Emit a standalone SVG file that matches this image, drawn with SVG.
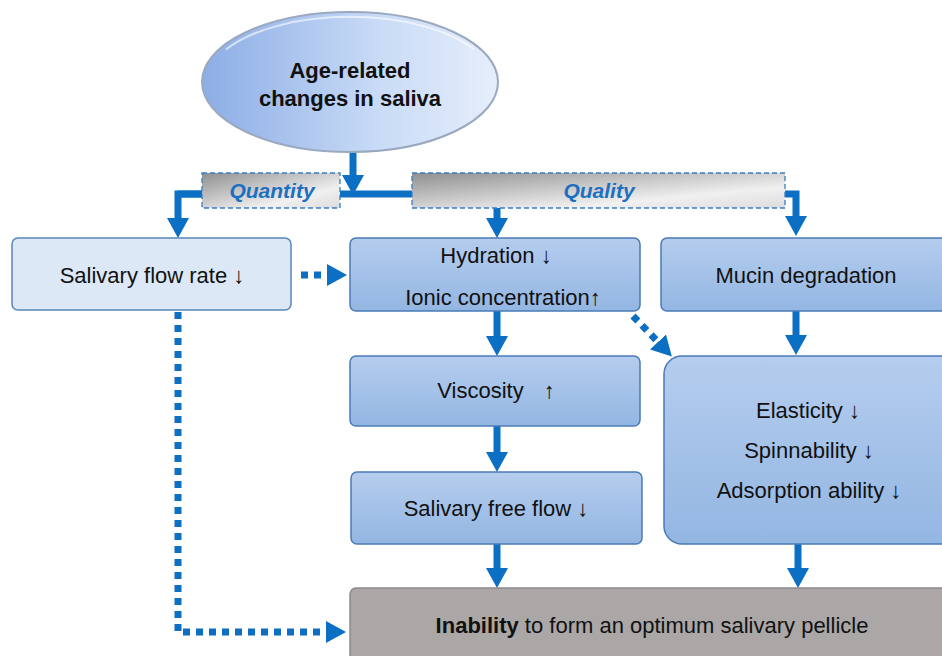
<svg xmlns="http://www.w3.org/2000/svg" width="942" height="656" viewBox="0 0 942 656">
<defs>
<linearGradient id="gEll" x1="0" y1="0" x2="1" y2="0">
<stop offset="0" stop-color="#8cade6"/>
<stop offset="0.6" stop-color="#c9dbf6"/>
<stop offset="1" stop-color="#e6eefb"/>
</linearGradient>
<linearGradient id="gTag" x1="0" y1="0" x2="1" y2="1">
<stop offset="0" stop-color="#8f8f8f"/>
<stop offset="0.7" stop-color="#f0f0f0"/>
<stop offset="1" stop-color="#dcdcdc"/>
</linearGradient>
<linearGradient id="gBox" x1="0" y1="0" x2="0" y2="1">
<stop offset="0" stop-color="#b5cdee"/>
<stop offset="1" stop-color="#93b6e2"/>
</linearGradient>
<marker id="ah" viewBox="0 0 20 22" refX="0" refY="11" markerWidth="20" markerHeight="22" markerUnits="userSpaceOnUse" orient="auto">
<path d="M0,0 L20,11 L0,22 Z" fill="#0b6fc3"/>
</marker>
</defs>
<style>
.t{font-family:"Liberation Sans",Arial,sans-serif;font-size:22px;fill:#111;text-anchor:middle}
.b{font-weight:bold}
.tag{font-family:"Liberation Sans",Arial,sans-serif;font-size:21px;font-weight:bold;font-style:italic;fill:#1d6fc0;text-anchor:middle}
.box{fill:url(#gBox);stroke:#4a7bb7;stroke-width:1.5}
.solid{fill:none;stroke:#0b6fc3;stroke-width:7}
.dot{fill:none;stroke:#0b6fc3;stroke-width:7;stroke-dasharray:7 6}
.tagbox{fill:url(#gTag);stroke:#3b7cc0;stroke-width:1.3;stroke-dasharray:5 3}
</style>

<g id="connectors">
<path class="solid" d="M204,194 L178,194 L178,218" marker-end="url(#ah)"/>
<path class="solid" d="M178,194 L796,194 L796,216" marker-end="url(#ah)"/>
<path class="solid" d="M353,152 L353,175" marker-end="url(#ah)"/>
<path class="solid" d="M497,206 L497,218" marker-end="url(#ah)"/>
<path class="solid" d="M497,311 L497,336" marker-end="url(#ah)"/>
<path class="solid" d="M497,426 L497,452" marker-end="url(#ah)"/>
<path class="solid" d="M497,544 L497,568" marker-end="url(#ah)"/>
<path class="solid" d="M796,311 L796,335" marker-end="url(#ah)"/>
<path class="solid" d="M798,544 L798,568" marker-end="url(#ah)"/>
<path class="dot" d="M301,275 L327,275" marker-end="url(#ah)"/>
<path class="dot" d="M633,316 L658,342" marker-end="url(#ah)"/>
<path class="dot" d="M178,312 L178,632 L326,632" marker-end="url(#ah)"/>
</g>

<g id="age">
<ellipse cx="350" cy="82" rx="148" ry="70" fill="url(#gEll)" stroke="#9aa9c0" stroke-width="2"/>
<path d="M226,49.5 A143 65 0 0 1 474,49.5" fill="none" stroke="#ffffff" stroke-opacity="0.6" stroke-width="2"/>
<text class="t b" x="350" y="78">Age-related</text>
<text class="t b" x="350" y="106">changes in saliva</text>
</g>

<g id="quantity">
<rect class="tagbox" x="202" y="173" width="138" height="35"/>
<text class="tag" x="272" y="198">Quantity</text>
</g>

<g id="quality">
<rect class="tagbox" x="412" y="173" width="373" height="35"/>
<text class="tag" x="599" y="198">Quality</text>
</g>

<g id="flowrate">
<rect x="12" y="238" width="279" height="72" rx="6" fill="#dce8f6" stroke="#5a85b6" stroke-width="1.5"/>
<text class="t" x="152" y="283">Salivary flow rate ↓</text>
</g>

<g id="hydration">
<rect class="box" x="350" y="238" width="290" height="73" rx="6"/>
<text class="t" x="496" y="263">Hydration ↓</text>
<text class="t" x="503" y="305">Ionic concentration↑</text>
</g>

<g id="mucin">
<rect class="box" x="661" y="238" width="300" height="73" rx="6"/>
<text class="t" x="806" y="283">Mucin degradation</text>
</g>

<g id="viscosity">
<rect class="box" x="350" y="356" width="290" height="70" rx="6"/>
<text class="t" x="496" y="398">Viscosity<tspan dx="20">↑</tspan></text>
</g>

<g id="freeflow">
<rect class="box" x="351" y="472" width="291" height="72" rx="6"/>
<text class="t" x="496" y="516">Salivary free flow ↓</text>
</g>

<g id="elasticity">
<rect class="box" x="664" y="356" width="300" height="188" rx="18"/>
<text class="t" x="808" y="418">Elasticity ↓</text>
<text class="t" x="809" y="458">Spinnability ↓</text>
<text class="t" x="809" y="498">Adsorption ability ↓</text>
</g>

<g id="inability">
<rect x="350" y="588" width="612" height="90" rx="6" fill="#aaa7a6" stroke="#8d8b8a" stroke-width="1.5"/>
<text class="t" x="652" y="633"><tspan font-weight="bold">Inability</tspan> to form an optimum salivary pellicle</text>
</g>
</svg>
